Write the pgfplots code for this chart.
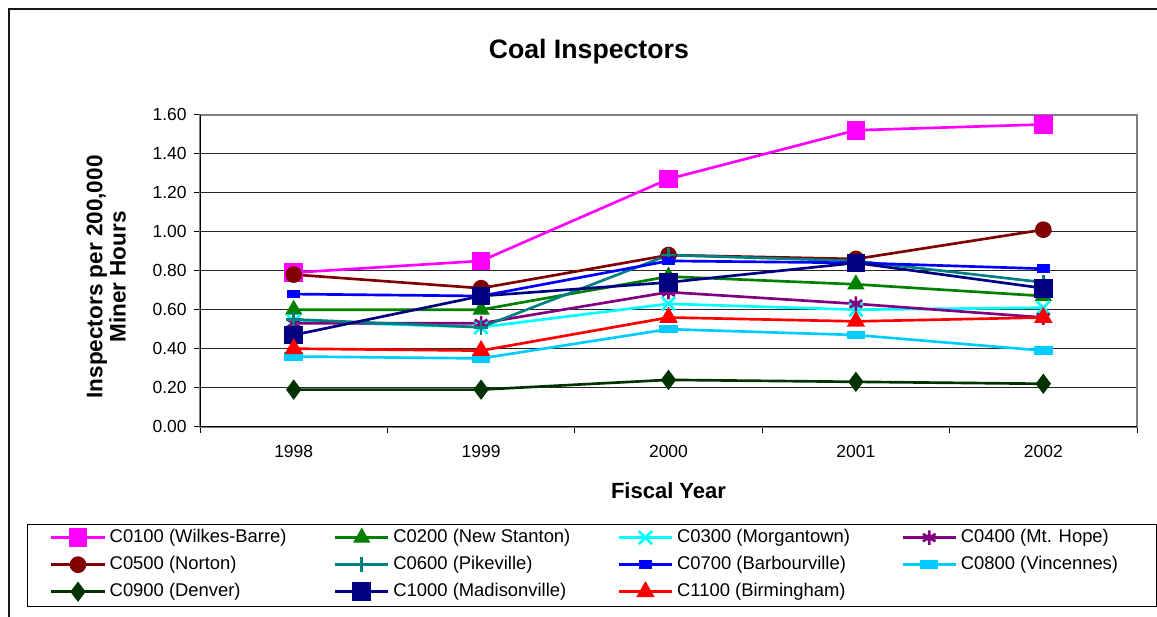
\documentclass[border=0pt]{standalone}
\usepackage{fontspec}
\setmainfont{Liberation Sans}
\usepackage{pgfplots}
\pgfplotsset{compat=1.18}
\definecolor{cMag}{HTML}{FF00FF}
\definecolor{cGreen}{HTML}{008000}
\definecolor{cCyan}{HTML}{00FFFF}
\definecolor{cPurple}{HTML}{800080}
\definecolor{cMaroon}{HTML}{800000}
\definecolor{cTeal}{HTML}{008080}
\definecolor{cBlue}{HTML}{0000FF}
\definecolor{cSky}{HTML}{00CCFF}
\definecolor{cDkGreen}{HTML}{003300}
\definecolor{cNavy}{HTML}{000080}
\definecolor{cRed}{HTML}{FF0000}
\begin{document}
\begin{tikzpicture}
\useasboundingbox (0,0) rectangle (867.75pt,-462.75pt);
\draw[line width=1.5pt, black!90] (6.75pt,-480pt) -- (6.75pt,-6.75pt) -- (900pt,-6.75pt);
\draw[line width=1.1pt, black] (20.5pt,-393.5pt) rectangle (867.2pt,-454.7pt);
\begin{axis}[
  at={(150pt,-320pt)}, anchor=south west,
  scale only axis, width=702.75pt, height=234pt,
  xmin=-0.5, xmax=4.5, ymin=0, ymax=1.6,
  xtick={-0.5,0.5,1.5,2.5,3.5,4.5}, xticklabels={},
  extra x ticks={0,1,2,3,4},
  extra x tick labels={1998,1999,2000,2001,2002},
  extra x tick style={major tick length=0pt, tick style={draw=none}},
  ytick={0,0.2,0.4,0.6,0.8,1.0,1.2,1.4,1.6},
  tick align=outside, tick pos=left, major tick length=4.5pt,
  tick style={black, line width=0.75pt},
  ymajorgrids, grid style={black!85, line width=0.75pt},
  axis line style={draw=black!50, line width=1.5pt},
  /pgf/number format/assume math mode=true,
  ticklabel style={font=\fontsize{13.1}{15.7}\selectfont},
  xticklabel style={yshift=-10.6pt},
  yticklabel style={xshift=-2pt, /pgf/number format/fixed, /pgf/number format/fixed zerofill, /pgf/number format/precision=2},
  title={Coal Inspectors},
  title style={at={(axis description cs:0.415,1.177)}, anchor=center, font=\fontsize{20}{24}\selectfont\bfseries},
  xlabel={Fiscal Year},
  xlabel style={at={(axis description cs:0.5,-0.2045)}, anchor=center, font=\fontsize{16.5}{19}\selectfont\bfseries},
  ylabel={Inspectors per 200,000\\Miner Hours},
  ylabel style={at={(axis description cs:-0.100,0.480)}, anchor=center, align=center, font=\fontsize{16.9}{17.5}\selectfont\bfseries},
  legend columns=4, legend cell align=left,
  legend style={at={(axis description cs:-0.1601,-0.330)}, anchor=north west, draw=none, fill=none, inner sep=0pt, outer sep=0pt, row sep=8.3pt,
    font=\fontsize{13.8}{16}\selectfont,
    nodes={inner sep=0pt, text height=9.5pt, text depth=2.5pt},
    /tikz/every odd column/.append style={column sep=2.8pt},
    /tikz/every even column/.append style={column sep=3.0pt}},
  legend image code/.code={\draw[mark repeat=2,mark phase=2,#1] plot coordinates {(0pt,0pt) (20pt,0pt) (40pt,0pt)};},
  lw/.style={line width=2pt, mark options={solid}},
]
\addplot[lw, color=cMag, mark=square*, mark size=6pt] coordinates {(0,0.79) (1,0.85) (2,1.27) (3,1.52) (4,1.55)};
\addlegendentry{\makebox[165pt][l]{C0100 (Wilkes-Barre)}}
\addplot[lw, color=cGreen, mark=triangle*, mark size=5.5pt] coordinates {(0,0.60) (1,0.60) (2,0.77) (3,0.73) (4,0.67)};
\addlegendentry{\makebox[165pt][l]{C0200 (New Stanton)}}
\addplot[lw, color=cCyan, mark=x, mark size=7pt] coordinates {(0,0.54) (1,0.51) (2,0.63) (3,0.60) (4,0.61)};
\addlegendentry{\makebox[165pt][l]{C0300 (Morgantown)}}
\addplot[lw, color=cPurple, mark=asterisk, mark size=5.5pt] coordinates {(0,0.53) (1,0.53) (2,0.69) (3,0.63) (4,0.56)};
\addlegendentry{\makebox[165pt][l]{C0400 (Mt. Hope)}}
\addplot[lw, color=cMaroon, mark=*, mark size=5.25pt] coordinates {(0,0.78) (1,0.71) (2,0.88) (3,0.86) (4,1.01)};
\addlegendentry{\makebox[165pt][l]{C0500 (Norton)}}
\addplot[lw, color=cTeal, mark=+, mark size=5.5pt] coordinates {(0,0.55) (1,0.51) (2,0.88) (3,0.85) (4,0.74)};
\addlegendentry{\makebox[165pt][l]{C0600 (Pikeville)}}
\addplot[lw, color=cBlue, mark=square*, mark size=2.3pt, mark options={xscale=1.6}] coordinates {(0,0.68) (1,0.67) (2,0.85) (3,0.84) (4,0.81)};
\addlegendentry{\makebox[165pt][l]{C0700 (Barbourville)}}
\addplot[lw, color=cSky, mark=square*, mark size=2.2pt, mark options={xscale=2.7}] coordinates {(0,0.36) (1,0.35) (2,0.50) (3,0.47) (4,0.39)};
\addlegendentry{\makebox[165pt][l]{C0800 (Vincennes)}}
\addplot[lw, color=cDkGreen, mark=diamond*, mark size=6pt] coordinates {(0,0.19) (1,0.19) (2,0.24) (3,0.23) (4,0.22)};
\addlegendentry{\makebox[165pt][l]{C0900 (Denver)}}
\addplot[lw, color=cNavy, mark=square*, mark size=6pt] coordinates {(0,0.47) (1,0.67) (2,0.74) (3,0.84) (4,0.71)};
\addlegendentry{\makebox[165pt][l]{C1000 (Madisonville)}}
\addplot[lw, color=cRed, mark=triangle*, mark size=6pt] coordinates {(0,0.40) (1,0.39) (2,0.56) (3,0.54) (4,0.56)};
\addlegendentry{\makebox[165pt][l]{C1100 (Birmingham)}}
\draw[black, line width=1.5pt] (rel axis cs:0,1) -- (rel axis cs:0,0) -- (rel axis cs:1,0);
\end{axis}
\end{tikzpicture}
\end{document}
